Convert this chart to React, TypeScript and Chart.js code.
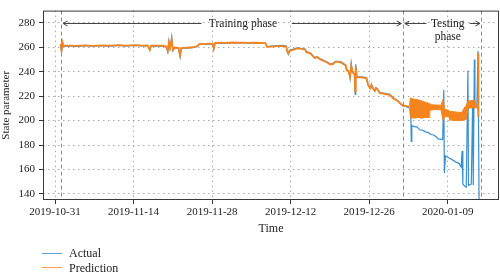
import React, { useEffect, useRef } from 'react';
import { Chart, registerables } from 'chart.js';

Chart.register(...registerables);

// ---- Data (x values are days counted from 2019-10-31) ----
const BASE_DATE = '2019-10-31';
const xTickLabels = ['2019-10-31', '2019-11-14', '2019-11-28', '2019-12-12', '2019-12-26', '2020-01-09'];
const yTickValues = [140, 160, 180, 200, 220, 240, 260, 280];
const phaseBoundaryDates = ['2019-11-01', '2020-01-01', '2020-01-15'];

const actualDays = [
  1.0, 1.2, 1.35, 1.5, 2.5, 3.5, 4.5, 5.5, 6.5, 7.5, 8.5, 9.5, 10.5, 11.5, 12.5, 13.5, 14.5, 15.5, 16.5, 16.9,
  17.1, 18, 19, 19.8, 20.1, 20.3, 20.5, 20.8, 21.0, 21.3, 22, 22.3, 22.5, 23.5, 24.5, 25.3, 25.8, 26.5, 27.5, 28.1,
  28.3, 28.5, 29.5, 30.5, 31.5, 32.5, 33.5, 34.5, 35.5, 36.5, 37.5, 37.8, 38.5, 39.5, 40.5, 41.2, 41.4, 41.6, 41.8, 42.5,
  43.2, 44, 44.6, 44.8, 45.5, 46, 46.3, 46.7, 47.3, 47.8, 48.5, 49.0, 49.5, 50, 50.5, 51, 51.5, 51.8, 52.0, 52.3,
  52.6, 52.8, 53.0, 53.4, 53.5, 53.6, 53.8, 54.5, 55, 55.5, 55.8, 56.2, 56.4, 56.7, 57.0, 57.2, 57.5, 57.9, 58.5, 59,
  59.7, 60.2, 60.7, 61.1, 61.6, 62.0, 62.5, 63.0, 63.4, 63.45, 63.5, 63.6, 64, 64.5, 65, 65.5, 66, 66.5, 67, 67.5,
  68, 68.3, 68.7, 69.1, 69.3, 69.4, 69.6, 70.2, 71.5, 72.0, 72.4, 72.55, 72.7, 73.0, 73.3, 73.6, 73.7, 74.2, 74.45, 74.55,
  74.75, 74.85, 75.2, 75.4, 75.6,
];
const actualValues = [
  262, 257, 264, 261, 261.2, 260.8, 261, 261.3, 260.9, 261.1, 261.4, 261, 261.2, 261.5, 261, 261.3, 261.6, 261.1, 261.4, 257.5,
  261, 261.2, 261, 260.5, 256, 265, 259, 268.5, 257, 259.5, 259.2, 252, 259, 259.3, 259.7, 260.5, 262.5, 262.3, 262.6, 262.8,
  258.5, 263.2, 263.5, 263.4, 263.7, 263.5, 263.6, 263.4, 263.5, 263.3, 263.2, 260.5, 261, 261.3, 261.6, 261.2, 256, 254, 257.5, 258.5,
  259.5, 259, 258.5, 256.5, 255.5, 253, 251, 252.5, 250.5, 249.5, 248, 246.5, 246.5, 248.5, 248.5, 248, 246.5, 245.5, 241.5, 241,
  234, 247, 240.5, 238, 221.5, 246, 236, 235.8, 235.5, 235.2, 229, 226, 230, 226.5, 224, 227, 225.8, 222.8, 222.5, 222,
  221.5, 219, 217.5, 216.3, 213.5, 212, 211.5, 210.5, 210, 197, 183, 196, 195, 194.8, 192.5, 192.2, 190.8, 190.3, 188.6, 188.2,
  186.5, 185, 184.8, 184.5, 225, 157, 171, 169.5, 166, 165, 162, 175, 148, 146.5, 145.5, 241, 147, 148, 216, 147,
  250, 212, 212.5, 257, 125,
];

// null marks the break where the testing-phase spread (band below) takes over
const predictionDays = [
  1.0, 1.15, 1.3, 1.5, 2.5, 3.5, 4.5, 5.5, 6.5, 7.5, 8.5, 9.5, 10.5, 11.5, 12.5, 13.5, 14.5, 15.5, 16.5, 16.9,
  17.1, 18, 19, 19.8, 20.1, 20.3, 20.5, 20.8, 21.0, 21.3, 22, 22.3, 22.5, 23.5, 24.5, 25.3, 25.8, 26.5, 27.5, 28.1,
  28.3, 28.5, 29.5, 30.5, 31.5, 32.5, 33.5, 34.5, 35.5, 36.5, 37.5, 37.8, 38.5, 39.5, 40.5, 41.2, 41.4, 41.6, 41.8, 42.5,
  43.2, 44, 44.6, 44.8, 45.5, 46, 46.3, 46.7, 47.3, 47.8, 48.5, 49.0, 49.5, 50, 50.5, 51, 51.8, 52.0, 52.3, 52.6,
  52.8, 53.0, 53.4, 53.5, 53.6, 53.8, 54.5, 55, 55.5, 55.8, 56.2, 56.4, 56.7, 57.0, 57.2, 57.5, 57.9, 58.5, 59, 59.7,
  60.2, 60.7, 61.1, 61.6, 62.0, 62.5, 63.0, 63.2, 63.3, 75.2, 75.4, 75.45, 75.5,
];
const predictionValues: (number | null)[] = [
  263, 256.5, 264.5, 261.5, 261.4, 261.1, 261.3, 261.5, 261.2, 261.4, 261.6, 261.3, 261.5, 261.7, 261.3, 261.5, 261.8, 261.4, 261.6, 258,
  261.3, 261.4, 261.3, 260.8, 257, 264, 259.5, 266, 258, 259.8, 259.5, 253.5, 259.3, 259.6, 260, 260.8, 262.8, 262.6, 262.9, 263,
  259, 263.4, 263.7, 263.6, 263.9, 263.7, 263.8, 263.6, 263.7, 263.5, 263.4, 260.3, 260.6, 260.9, 261, 260.8, 256.5, 255, 257, 258,
  259, 258.6, 258, 256, 255, 252.5, 251.5, 252, 250, 249, 247.5, 246, 246, 248, 248, 247.5, 245, 241, 240.5, 236,
  245, 240, 237.5, 224, 244, 235.5, 235.3, 235, 234.7, 229.5, 226.5, 229, 226, 224.5, 226.5, 225.3, 222.5, 222, 221.5, 221,
  218.5, 217, 216, 213.8, 212.5, 212, 211.5, 211.5, null, 211, 211, 255, 203,
];

// Spread of the prediction during the testing phase (upper / lower envelope)
const bandDays = [
  63.2, 63.35, 64.0, 64.7, 65.4, 66.0, 66.7, 66.8, 67.8, 68.8, 69.2, 69.45, 70.2, 70.4, 71.5, 72.5, 72.9, 73.3, 73.6, 74.5,
  74.9, 75.1, 75.35,
];
const bandUpper = [
  212.5, 218.5, 217.5, 217, 216, 215, 214, 213, 212.8, 212.5, 218, 209, 208.5, 207.5, 207, 206.5, 210, 212.5, 216, 216.5,
  216.3, 211.5, 211.5,
];
const bandLower = [
  210.5, 202.5, 202, 202.5, 202, 202.5, 202.5, 208.5, 209, 208.8, 199.5, 203.5, 203, 200.5, 200, 200, 200.5, 201, 210, 210.5,
  210.3, 210.5, 210.5,
];

// ---- helpers ----
const DAY_MS = 86400000;
const baseMs = Date.parse(BASE_DATE + 'T00:00:00Z');
const dayOf = (s: string) => (Date.parse(s + 'T00:00:00Z') - baseMs) / DAY_MS;
const labelOf = (d: number) => new Date(baseMs + Math.round(d) * DAY_MS).toISOString().slice(0, 10);
const pts = (xs: number[], ys: (number | null)[]) => xs.map((x, i) => ({ x, y: ys[i] }));

const xTickDays = xTickLabels.map(dayOf);
const boundaryDays = phaseBoundaryDates.map(dayOf);

const BLUE = '#3a8fd0';
const ORANGE = '#f5841f';
const FONT = "'Liberation Serif', 'Times New Roman', serif";

const phasePlugin = {
  id: 'phases',
  afterDatasetsDraw(chart: any) {
    const { ctx, chartArea: ca, scales } = chart;
    const x = scales.x;
    ctx.save();
    // phase boundaries
    ctx.strokeStyle = '#8c8c8c';
    ctx.lineWidth = 1;
    ctx.setLineDash([4, 3]);
    boundaryDays.forEach((d: number) => {
      const px = Math.round(x.getPixelForValue(d)) + 0.5;
      ctx.beginPath();
      ctx.moveTo(px, ca.top);
      ctx.lineTo(px, ca.bottom);
      ctx.stroke();
    });
    ctx.setLineDash([]);
    // frame
    ctx.strokeStyle = '#3a3a3a';
    ctx.strokeRect(ca.left + 0.5, ca.top + 0.5, ca.right - ca.left - 1, ca.bottom - ca.top - 1);

    // arrows
    const ay = Math.round(ca.top + 12) + 0.5;
    ctx.strokeStyle = '#444';
    const head = (tx: number, dir: number) => {
      ctx.beginPath();
      ctx.moveTo(tx + dir * 4.5, ay - 2.5);
      ctx.lineTo(tx, ay);
      ctx.lineTo(tx + dir * 4.5, ay + 2.5);
      ctx.stroke();
    };
    const seg = (x0: number, x1: number) => {
      ctx.beginPath();
      ctx.moveTo(x0, ay);
      ctx.lineTo(x1, ay);
      ctx.stroke();
    };
    const b0 = x.getPixelForValue(boundaryDays[0]);
    const b1 = x.getPixelForValue(boundaryDays[1]);
    const b2 = x.getPixelForValue(boundaryDays[2]);
    // training
    const trL = b0 + 2.5, trR = b1 - 1.5;
    seg(trL, x.getPixelForValue(26.1));
    seg(x.getPixelForValue(42.2), trR);
    head(trL, 1);
    head(trR, -1);
    // testing
    const teL = b1 + 2, teR = b2 - 1.5;
    seg(teL, x.getPixelForValue(66.2));
    seg(x.getPixelForValue(73.9), teR);
    head(teL, 1);
    head(teR, -1);

    ctx.fillStyle = '#222';
    ctx.font = `11.5px ${FONT}`;
    ctx.textAlign = 'center';
    ctx.textBaseline = 'middle';
    ctx.fillText('Training phase', x.getPixelForValue(33.5), ay);
    ctx.fillText('Testing', x.getPixelForValue(70.0), ay);
    ctx.fillText('phase', x.getPixelForValue(70.0), ay + 13.5);
    ctx.restore();
  },
};

export default function App() {
  const ref = useRef<HTMLCanvasElement>(null);
  useEffect(() => {
    Chart.defaults.font.family = FONT;
    Chart.defaults.color = '#222';
    const gridCommon = {
      color: '#a8a8a8',
      lineWidth: 1,
      drawTicks: true,
      tickLength: 4,
      tickColor: '#333',
      tickBorderDash: [],
    };
    const chart = new Chart(ref.current!, {
      type: 'line',
      data: {
        datasets: [
          {
            label: 'Actual',
            data: pts(actualDays, actualValues),
            borderColor: BLUE,
            borderWidth: 1.2,
            pointRadius: 0,
            tension: 0,
            order: 2,
          },
          {
            label: 'Prediction',
            data: pts(predictionDays, predictionValues),
            borderColor: ORANGE,
            borderWidth: 1.8,
            pointRadius: 0,
            tension: 0,
            spanGaps: false,
            order: 1,
          },
          {
            label: 'Prediction upper',
            data: pts(bandDays, bandUpper),
            borderColor: ORANGE,
            backgroundColor: ORANGE,
            borderWidth: 1,
            pointRadius: 0,
            tension: 0,
            fill: '+1',
            order: 1,
          },
          {
            label: 'Prediction lower',
            data: pts(bandDays, bandLower),
            borderColor: ORANGE,
            borderWidth: 1,
            pointRadius: 0,
            tension: 0,
            fill: false,
            order: 1,
          },
        ],
      },
      options: {
        animation: false,
        responsive: false,
        maintainAspectRatio: false,
        layout: { padding: { top: 1, right: 1, bottom: 36, left: 0 } },
        plugins: { legend: { display: false }, tooltip: { enabled: false } },
        scales: {
          x: {
            type: 'linear',
            min: -2.14,
            max: 79.14,
            afterBuildTicks: (s: any) => {
              s.ticks = xTickDays.map((v) => ({ value: v }));
            },
            afterFit: (s: any) => {
              s.height = 40;
            },
            ticks: {
              autoSkip: false,
              maxRotation: 0,
              padding: 2,
              font: { size: 11 },
              color: '#222',
              callback: (v: any) => labelOf(Number(v)),
            },
            grid: gridCommon,
            border: { display: false, dash: [1.5, 3.5] },
            title: { display: true, text: 'Time', font: { size: 12 }, color: '#222', padding: { top: 0, bottom: 4 } },
          },
          y: {
            type: 'linear',
            min: 135,
            max: 290,
            afterBuildTicks: (s: any) => {
              s.ticks = yTickValues.map((v) => ({ value: v }));
            },
            afterFit: (s: any) => {
              s.width = 43;
            },
            ticks: { padding: 4, font: { size: 11 }, color: '#222' },
            grid: gridCommon,
            border: { display: false, dash: [1.5, 3.5] },
            title: { display: true, text: 'State parameter', font: { size: 11 }, color: '#222', padding: { top: 0, bottom: 2 } },
          },
        },
      },
      plugins: [phasePlugin],
    } as any);
    return () => chart.destroy();
  }, []);

  const legendRow = (color: string, text: string) => (
    <div style={{ display: 'flex', alignItems: 'center', height: 14.5 }}>
      <div style={{ width: 20, height: 1.3, background: color, opacity: 0.8 }} />
      <span style={{ marginLeft: 7, lineHeight: '14px' }}>{text}</span>
    </div>
  );

  return (
    <div style={{ position: 'fixed', left: 0, top: 0, width: 500, height: 276, background: '#fff' }}>
      <canvas ref={ref} width={500} height={276} style={{ display: 'block', width: 500, height: 276 }} />
      <div
        style={{
          position: 'absolute',
          left: 42,
          top: 246,
          fontFamily: FONT,
          fontSize: 12,
          color: '#222',
        }}
      >
        {legendRow(BLUE, 'Actual')}
        {legendRow(ORANGE, 'Prediction')}
      </div>
    </div>
  );
}
